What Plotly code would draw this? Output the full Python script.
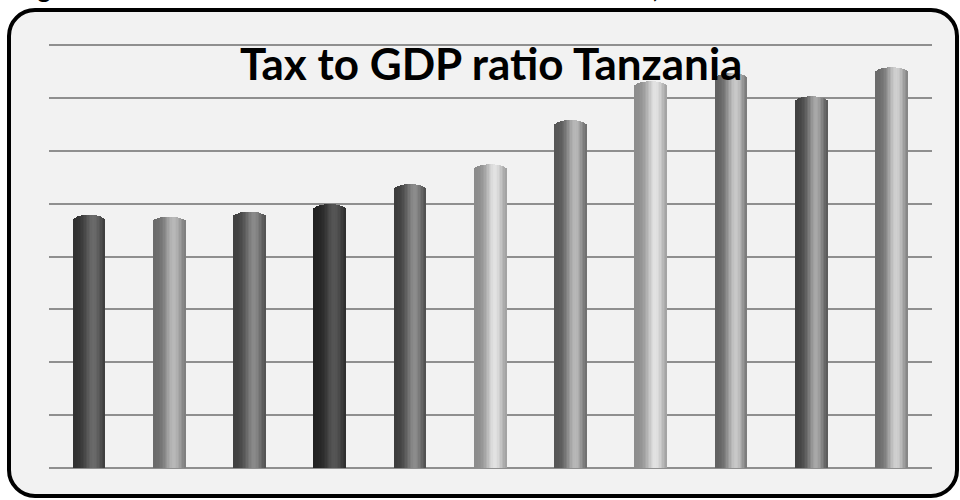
import numpy as np
import plotly.graph_objects as go

# Fiscal years (axis labels are not shown on the chart)
years = ["2000/01", "2001/02", "2002/03", "2003/04", "2004/05", "2005/06",
         "2006/07", "2007/08", "2008/09", "2009/10", "2010/11"]
# Tax revenue as % of GDP
tax_gdp = [9.57, 9.51, 9.70, 9.98, 10.74, 11.49, 13.16, 14.63, 14.93, 14.06, 15.16]

# Shade of each cylinder: (edge tone, highlight tone) as grey levels
edge_tone = [48, 106, 64, 34, 60, 138, 85, 140, 96, 64, 106]
high_tone = [106, 184, 138, 85, 140, 226, 184, 226, 200, 168, 208]

W, H = 960, 500
M_L, M_R, M_T, M_B = 49, 28, 44, 32
PW, PH = W - M_L - M_R, H - M_T - M_B

def px(x):
    return (x - M_L) / PW

def py(y):
    return (H - M_B - y) / PH

fig = go.Figure()

# Each cylinder is built from thin vertical strips shaded like a lit tube,
# with the strip tops lowered toward the edges to give a rounded cap.
n_strips = 22
bar_w = 0.40
strip_w = bar_w / n_strips
cap = 0.20
for j in range(n_strips):
    u = -1 + (2 * j + 1) / n_strips
    f = np.exp(-((u - 0.30) / 0.58) ** 2)
    heights = [v - cap * (1 - np.sqrt(max(0.0, 1 - u * u))) for v in tax_gdp]
    cols = []
    for e, h in zip(edge_tone, high_tone):
        g = int(round(e + (h - e) * f))
        cols.append(f"rgb({g},{g},{g})")
    fig.add_trace(go.Bar(
        x=years, y=heights,
        offset=-bar_w / 2 + j * strip_w,
        width=strip_w * 1.08,
        marker=dict(color=cols, line=dict(width=0)),
        showlegend=False, hoverinfo="skip",
    ))

# Rounded frame around the chart
x0, x1, y0, y1, r = 9, 957, 10, 496, 26
k = 0.5523 * r
path = (
    f"M {px(x0 + r)} {py(y0)} L {px(x1 - r)} {py(y0)} "
    f"C {px(x1 - r + k)} {py(y0)} {px(x1)} {py(y0 + r - k)} {px(x1)} {py(y0 + r)} "
    f"L {px(x1)} {py(y1 - r)} "
    f"C {px(x1)} {py(y1 - r + k)} {px(x1 - r + k)} {py(y1)} {px(x1 - r)} {py(y1)} "
    f"L {px(x0 + r)} {py(y1)} "
    f"C {px(x0 + r - k)} {py(y1)} {px(x0)} {py(y1 - r + k)} {px(x0)} {py(y1 - r)} "
    f"L {px(x0)} {py(y0 + r)} "
    f"C {px(x0)} {py(y0 + r - k)} {px(x0 + r - k)} {py(y0)} {px(x0 + r)} {py(y0)} Z"
)
fig.add_shape(type="path", path=path, xref="paper", yref="paper",
              fillcolor="#f2f2f2", line=dict(color="#000000", width=4),
              layer="below")

fig.add_annotation(
    text="<b>Tax to GDP ratio Tanzania</b>",
    xref="paper", yref="paper", x=0.5, y=py(63), xanchor="center", yanchor="middle",
    showarrow=False, font=dict(family="Lato", size=44, color="#000000"),
)

# Figure caption running along the top edge of the page
fig.add_annotation(
    text="<b>Figure 3: Tax Revenue Performance Indicators in Tanzania, 1996/97-2011/12</b>",
    xref="paper", yref="paper", x=px(15), y=py(-12), xanchor="left", yanchor="middle",
    showarrow=False, font=dict(family="Lato", size=25, color="#000000"),
)

fig.update_layout(
    width=W, height=H,
    margin=dict(l=M_L, r=M_R, t=M_T, b=M_B),
    paper_bgcolor="#ffffff",
    plot_bgcolor="rgba(0,0,0,0)",
    barmode="overlay",
    bargap=0,
    xaxis=dict(showticklabels=False, showgrid=False, zeroline=False,
               showline=False, ticks="", range=[-0.5, 10.5]),
    yaxis=dict(range=[0, 16.04], dtick=2, showticklabels=False, ticks="",
               showgrid=True, gridcolor="#8f8f8f", gridwidth=2,
               zeroline=True, zerolinecolor="#8f8f8f", zerolinewidth=2,
               showline=False),
)

fig.write_html("out.html")
